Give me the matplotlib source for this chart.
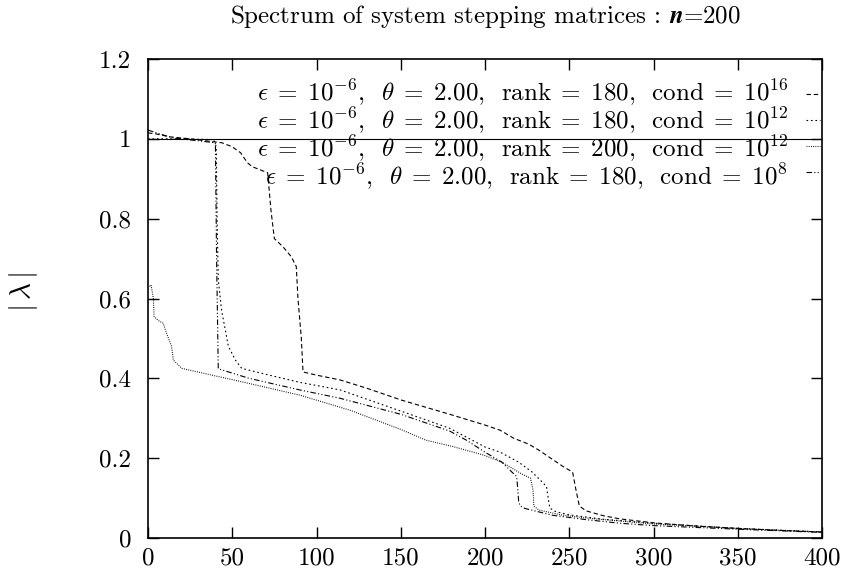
import matplotlib
matplotlib.use("Agg")
import matplotlib.pyplot as plt
from matplotlib.lines import Line2D

plt.rcParams['font.family'] = ['cmr10', 'DejaVu Serif']
plt.rcParams['mathtext.fontset'] = 'cm'
plt.rcParams['axes.formatter.use_mathtext'] = True

# ---- data ----
x_c16 = [0, 5, 13, 25, 44, 50, 55, 59, 62, 68, 71, 73, 75, 80, 85, 88, 89, 91, 92, 100, 114, 130, 150, 179, 200, 209, 217, 226, 232, 239, 246, 252, 254, 256, 260, 270, 280, 300, 325, 350, 375, 400]
y_c16 = [1.015, 1.012, 1.005, 1.0, 0.99, 0.98, 0.965, 0.94, 0.93, 0.92, 0.915, 0.82, 0.75, 0.73, 0.705, 0.68, 0.60, 0.50, 0.416, 0.408, 0.396, 0.375, 0.346, 0.31, 0.283, 0.27, 0.25, 0.235, 0.22, 0.2, 0.18, 0.165, 0.12, 0.08, 0.068, 0.056, 0.048, 0.038, 0.03, 0.024, 0.019, 0.015]

x_c12 = [0, 20, 39, 40.5, 41, 41.7, 43.7, 47.7, 52, 55.6, 70, 90, 114, 150, 179, 200, 209, 220, 228, 234, 236.5, 237.5, 238.5, 242, 250, 270, 300, 350, 400]
y_c12 = [1.0, 1.0, 0.998, 0.98, 0.8, 0.647, 0.57, 0.48, 0.445, 0.425, 0.41, 0.39, 0.371, 0.318, 0.275, 0.228, 0.215, 0.19, 0.165, 0.14, 0.129, 0.10, 0.075, 0.066, 0.058, 0.047, 0.037, 0.024, 0.015]

x_r200 = [1, 1.8, 3.2, 3.6, 6, 9, 11, 14, 15, 20, 40, 55, 90, 120, 150, 165, 181, 199, 210, 222, 227, 228.5, 229, 232, 245, 260, 300, 350, 400]
y_r200 = [0.63, 0.634, 0.60, 0.555, 0.545, 0.538, 0.513, 0.48, 0.446, 0.425, 0.406, 0.392, 0.358, 0.32, 0.272, 0.245, 0.229, 0.208, 0.19, 0.16, 0.15, 0.12, 0.08, 0.07, 0.058, 0.05, 0.035, 0.024, 0.015]

x_c8 = [0, 5, 15, 30, 40, 40.7, 41.7, 60, 90, 114, 150, 179, 189, 200, 210, 216, 218.8, 219.5, 220, 221, 223.7, 240, 260, 280, 300, 350, 400]
y_c8 = [1.022, 1.015, 1.002, 0.995, 0.99, 0.7, 0.424, 0.40, 0.371, 0.35, 0.31, 0.268, 0.245, 0.215, 0.19, 0.165, 0.154, 0.12, 0.09, 0.08, 0.074, 0.057, 0.046, 0.037, 0.031, 0.022, 0.014]

E = r"\;"
C = r"\;\;"
labels = [rf"$\epsilon{E}={E}10^{{-6}},{C}\theta{E}={E}2.00,{C}\mathrm{{rank}}{E}={E}180,{C}\mathrm{{cond}}{E}={E}10^{{16}}$",
          rf"$\epsilon{E}={E}10^{{-6}},{C}\theta{E}={E}2.00,{C}\mathrm{{rank}}{E}={E}180,{C}\mathrm{{cond}}{E}={E}10^{{12}}$",
          rf"$\epsilon{E}={E}10^{{-6}},{C}\theta{E}={E}2.00,{C}\mathrm{{rank}}{E}={E}200,{C}\mathrm{{cond}}{E}={E}10^{{12}}$",
          rf"$\epsilon{E}={E}10^{{-6}},{C}\theta{E}={E}2.00,{C}\mathrm{{rank}}{E}={E}180,{C}\mathrm{{cond}}{E}={E}10^{{8}}$"]

xticks = [0, 50, 100, 150, 200, 250, 300, 350, 400]
yticks = [0, 0.2, 0.4, 0.6, 0.8, 1, 1.2]
ytick_labels = ["0", "0.2", "0.4", "0.6", "0.8", "1", "1.2"]

styles = [(0, (4, 2.5)), (0, (1.5, 2.5)), (0, (0.8, 1.2)), (0, (5, 2, 1, 2, 1, 2))]

fig = plt.figure(figsize=(8.42, 5.79), dpi=100)
ax = fig.add_axes([148/842, 41/579, 674/842, 479/579])

series = [(x_c16, y_c16), (x_c12, y_c12), (x_r200, y_r200), (x_c8, y_c8)]
for (xs, ys), ls in zip(series, styles):
    ax.plot(xs, ys, color='black', lw=0.8, linestyle=ls)

ax.axhline(1.0, color='black', lw=0.8)

ax.set_xlim(0, 400)
ax.set_ylim(0, 1.2)
ax.set_xticks(xticks)
ax.set_xticklabels([str(v) for v in xticks])
ax.set_yticks(yticks)
ax.set_yticklabels(ytick_labels)
ax.tick_params(direction='in', length=8, width=1, top=True, right=True, labelsize=18)
ax.tick_params(axis='y', pad=12)
ax.tick_params(axis='x', pad=7)
for s in ax.spines.values():
    s.set_linewidth(1.2)

fig.text(485/842, 1 - 16/579, r"Spectrum of system stepping matrices : $\boldsymbol{n}$=200",
         ha='center', va='center', fontsize=18)
fig.text(24/842, 1 - 292/579, r"$|\,\lambda\,|$", rotation=90, ha='center', va='center', fontsize=21)

# legend: one right-aligned text block (gnuplot key) plus line samples
rows = [0.927, 0.873, 0.819, 0.765]
key = ax.text(0.9496, rows[0] + 0.033, "\n".join(labels), transform=ax.transAxes,
              ha='right', va='top', multialignment='right', fontsize=18, linespacing=0.9)
for ls, yr in zip(styles, rows):
    ax.add_line(Line2D([0.977, 0.997], [yr, yr], transform=ax.transAxes, color='black', lw=0.8, linestyle=ls))

fig.savefig("out.png", dpi=100)
